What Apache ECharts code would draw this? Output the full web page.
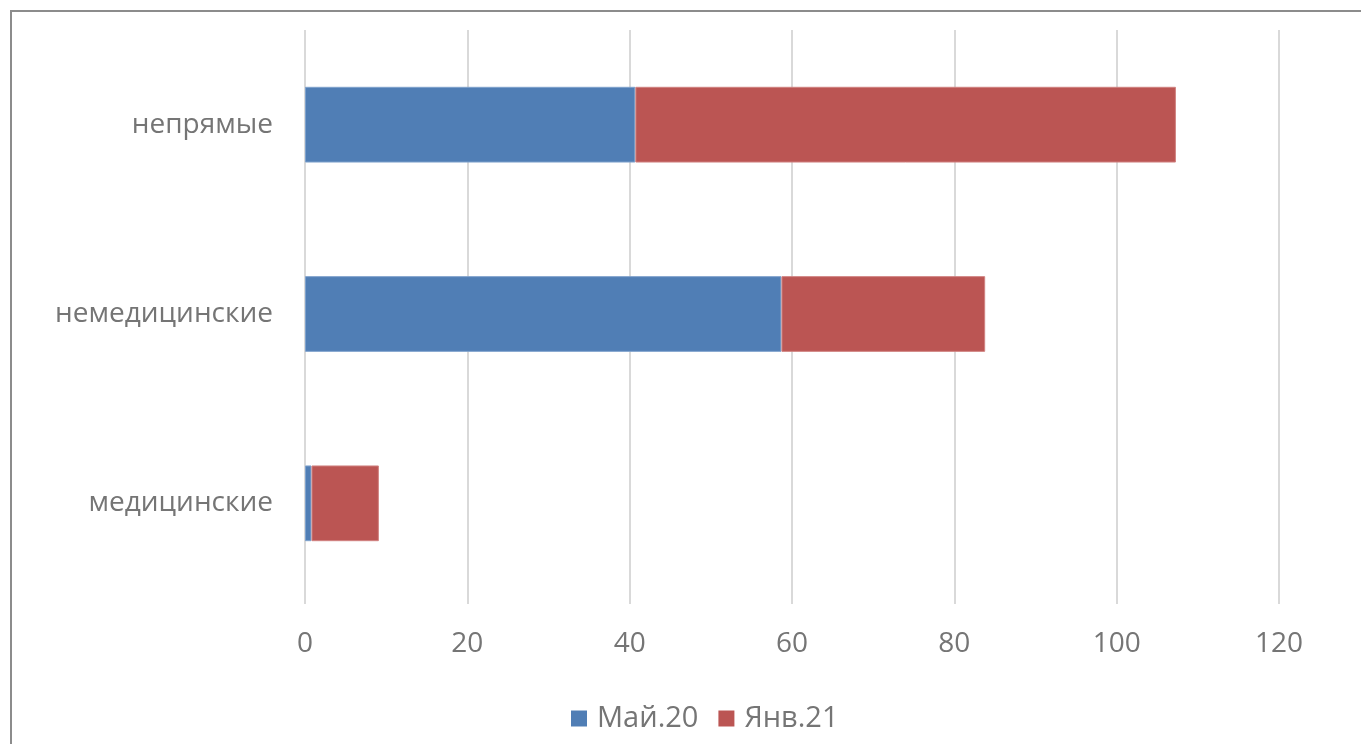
<!DOCTYPE html>
<html>
<head>
<meta charset="utf-8">
<script src="https://cdn.jsdelivr.net/npm/echarts@6/dist/echarts.min.js"></script>
<style>
html,body{margin:0;padding:0;background:#fff;}
#main{width:1361px;height:744px;}
</style>
</head>
<body>
<div id="main"></div>
<script>
var categories = ["медицинские", "немедицинские", "непрямые"];
var seriesNames = ["Май.20", "Янв.21"];
var may20 = [0.8, 58.7, 40.7];
var jan21 = [8.3, 25.1, 66.6];

var chart = echarts.init(document.getElementById('main'));
var textGray = "#757575";
var font = "Open Sans";

var option = {
	backgroundColor: "#fff",
	animation: false,
	graphic: [{
		type: 'rect',
		shape: {x: 11, y: 11, width: 1400, height: 800},
		style: {fill: 'none', stroke: '#8c8c8c', lineWidth: 2},
		silent: true
	}],
	legend: {
		data: seriesNames,
		bottom: 6,
		left: 566,
		itemWidth: 16,
		itemHeight: 16,
		itemGap: 20,
		icon: 'rect',
		itemStyle: {borderWidth: 0},
		textStyle: {color: textGray, fontSize: 29, fontFamily: font, padding: [0, 0, 0, 5]}
	},
	grid: {
		left: 305,
		right: 82,
		top: 30,
		bottom: 146
	},
	xAxis: {
		type: 'value',
		min: 0,
		max: 120,
		interval: 20,
		axisLine: {show: false},
		axisTick: {show: true, length: 6, lineStyle: {color: '#d9d9d9', width: 2}},
		axisLabel: {color: textGray, fontSize: 28, fontFamily: font, margin: 32},
		splitLine: {show: true, lineStyle: {color: '#d9d9d9', width: 2}}
	},
	yAxis: {
		type: 'category',
		data: categories,
		axisLine: {show: false},
		axisTick: {show: false},
		axisLabel: {color: textGray, fontSize: 28, fontFamily: font, margin: 32}
	},
	series: [{
		name: seriesNames[0],
		type: 'bar',
		stack: 'total',
		barWidth: '40%',
		itemStyle: {color: '#507EB5', borderColor: '#7fa2cc', borderWidth: 1},
		data: may20
	}, {
		name: seriesNames[1],
		type: 'bar',
		stack: 'total',
		barWidth: '40%',
		itemStyle: {color: '#BB5553', borderColor: '#d08280', borderWidth: 1},
		data: jan21
	}]
};

chart.setOption(option);
</script>
</body>
</html>
